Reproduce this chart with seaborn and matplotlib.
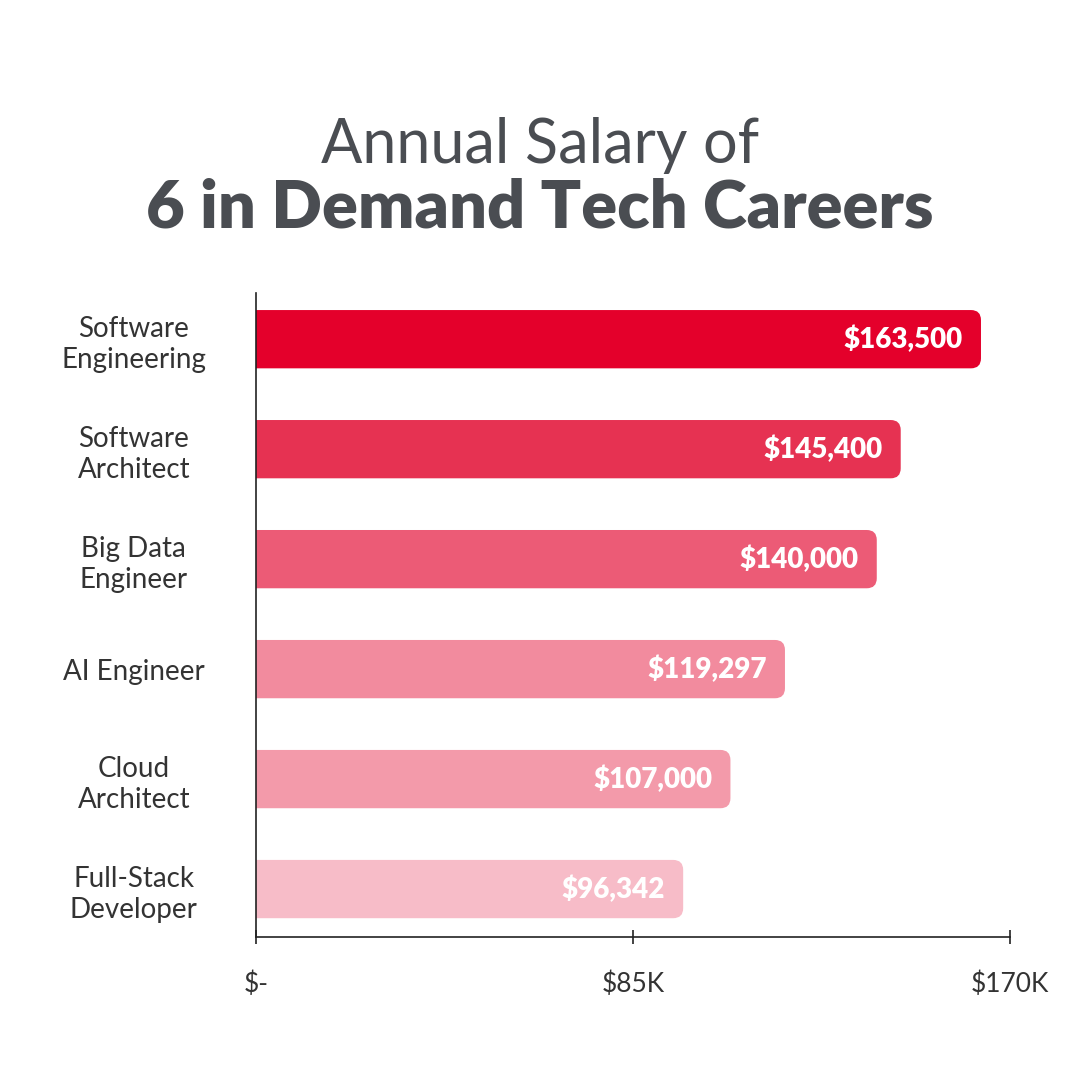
import matplotlib
matplotlib.use('Agg')
import matplotlib.pyplot as plt
import seaborn as sns
import pandas as pd
from matplotlib.patches import FancyBboxPatch

careers = ['Software\nEngineering', 'Software\nArchitect', 'Big Data\nEngineer',
           'AI Engineer', 'Cloud\nArchitect', 'Full-Stack\nDeveloper']
salaries = [163500, 145400, 140000, 119297, 107000, 96342]
bar_colors = ['#E4002B', '#E63252', '#EC5B76', '#F28B9E', '#F39AAA', '#F7BCC8']
xticks = [0, 85000, 170000]
xtick_labels = ['$-', '$85K', '$170K']

data = pd.DataFrame({'career': careers, 'salary': salaries})

sns.set_style('white')
plt.rcParams['font.family'] = ['Lato', 'DejaVu Sans']

fig = plt.figure(figsize=(10.8, 10.8), dpi=100)
ax = fig.add_axes([0.237, 0.1324, 0.698, 0.5963])

sns.barplot(data=data, x='salary', y='career', hue='career', palette=bar_colors,
            orient='h', width=0.53, legend=False, ax=ax, saturation=1)

# swap the square bars for ones with rounded right ends
x_per_px = 170000 / 754
y_per_px = 1 / 110
for patch in list(ax.patches):
    x0, y0 = patch.get_x(), patch.get_y()
    w, h = patch.get_width(), patch.get_height()
    col = patch.get_facecolor()
    patch.remove()
    off = 20 * x_per_px
    rb = FancyBboxPatch((x0 - off, y0), w + off, h,
                        boxstyle='round,pad=0,rounding_size=%f' % (10 * x_per_px),
                        mutation_aspect=y_per_px / x_per_px,
                        facecolor=col, edgecolor='none', zorder=2)
    ax.add_patch(rb)

for i, v in enumerate(salaries):
    ax.text(v - 18 * x_per_px, i, '${:,}'.format(v), ha='right', va='center',
            color='white', fontsize=20, fontweight='heavy', zorder=3)

ax.set_xlim(0, 170000)
ax.set_ylim(5.436, -0.42)
ax.set_xticks(xticks)
ax.set_xticklabels(xtick_labels)
ax.set_xlabel('')
ax.set_ylabel('')
ax.spines[['top', 'right']].set_visible(False)
for s in ['left', 'bottom']:
    ax.spines[s].set_color('#222222')
    ax.spines[s].set_linewidth(1.2)
ax.tick_params(axis='x', bottom=True, direction='inout', length=10, width=1.2,
               color='#222222', pad=20, labelsize=19, labelcolor='#333333')
ax.tick_params(axis='y', left=False, length=0, pad=88, labelsize=20, labelcolor='#333333')
for lab in ax.get_yticklabels():
    lab.set_ha('center')
    lab.set_multialignment('center')
    lab.set_linespacing(1.25)

fig.text(0.5, 1 - 145 / 1080, 'Annual Salary of', ha='center', va='center',
         fontsize=44, fontweight='normal', color='#4A4D52')
fig.text(0.5, 1 - 208 / 1080, '6 in Demand Tech Careers', ha='center', va='center',
         fontsize=48, fontweight='heavy', color='#4A4D52')

fig.savefig('out.png', dpi=100, facecolor='white')
